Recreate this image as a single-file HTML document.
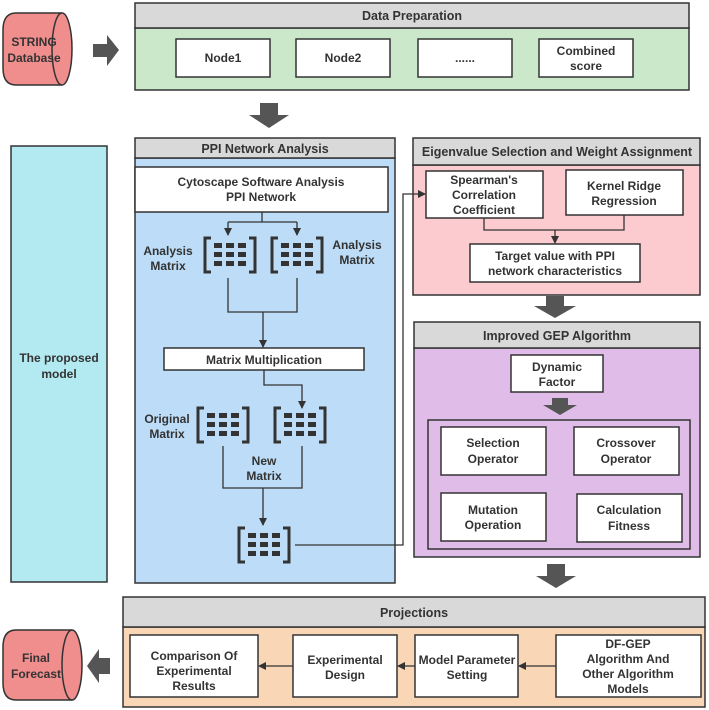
<!DOCTYPE html>
<html><head><meta charset="utf-8"><style>
html,body{margin:0;padding:0;background:#fff;width:709px;height:710px;overflow:hidden}
svg{display:block}
text{font-family:"Liberation Sans",sans-serif;font-weight:bold;fill:#333;text-anchor:middle}
.h{font-size:12.5px;font-weight:bold}
.t{font-size:12px}
</style></head><body>
<svg width="709" height="710" viewBox="0 0 709 710" xmlns="http://www.w3.org/2000/svg">
<defs>
<marker id="a" markerWidth="8" markerHeight="8" refX="7" refY="4" orient="auto" markerUnits="userSpaceOnUse"><path d="M0,0 L8,4 L0,8 z" fill="#333"/></marker>
<g id="mx">
<path d="M6,0 H0 V34 H6" fill="none" stroke="#333" stroke-width="3"/>
<path d="M44,0 H50 V34 H44" fill="none" stroke="#333" stroke-width="3"/>
<g fill="#333">
<rect x="9" y="5" width="8" height="5"/><rect x="21" y="5" width="8" height="5"/><rect x="33" y="5" width="8" height="5"/>
<rect x="9" y="14" width="8" height="5"/><rect x="21" y="14" width="8" height="5"/><rect x="33" y="14" width="8" height="5"/>
<rect x="9" y="23" width="8" height="5"/><rect x="21" y="23" width="8" height="5"/><rect x="33" y="23" width="8" height="5"/>
</g></g>
</defs>
<g stroke="#333" stroke-width="1.5">
<!-- Data Preparation -->
<rect x="135" y="28" width="554" height="62" fill="#cbe8cb"/>
<rect x="135" y="3" width="554" height="25" fill="#d9d9d9"/>
<rect x="176" y="39" width="94" height="38" fill="#fff"/>
<rect x="296" y="39" width="94" height="38" fill="#fff"/>
<rect x="418" y="39" width="94" height="38" fill="#fff"/>
<rect x="539" y="39" width="94" height="38" fill="#fff"/>
<!-- STRING cylinder -->
<path d="M62,13 H16 Q3,13 3,30 V68 Q3,85 16,85 H62" fill="#f08d8d"/>
<ellipse cx="62" cy="49" rx="10" ry="36" fill="#f08d8d"/>
<!-- cyan -->
<rect x="11" y="146" width="96" height="436" fill="#b3e9f0"/>
<!-- PPI -->
<rect x="135" y="158" width="260" height="425" fill="#bddcf7"/>
<rect x="135" y="138" width="260" height="20" fill="#d9d9d9"/>
<rect x="135" y="167" width="253" height="45" fill="#fff"/>
<rect x="164" y="348" width="200" height="22" fill="#fff"/>
<!-- Eigen -->
<rect x="413" y="165" width="287" height="130" fill="#fccbd0"/>
<rect x="413" y="138" width="287" height="27" fill="#d9d9d9"/>
<rect x="426" y="171" width="117" height="47" fill="#fff"/>
<rect x="566" y="170" width="117" height="45" fill="#fff"/>
<rect x="470" y="244" width="170" height="38" fill="#fff"/>
<!-- GEP -->
<rect x="414" y="348" width="286" height="209" fill="#dfbde8"/>
<rect x="414" y="322" width="286" height="26" fill="#d9d9d9"/>
<rect x="511" y="355" width="92" height="37" fill="#fff"/>
<rect x="428" y="420" width="262" height="129" fill="none"/>
<rect x="441" y="427" width="105" height="48" fill="#fff"/>
<rect x="574" y="427" width="105" height="48" fill="#fff"/>
<rect x="441" y="493" width="105" height="48" fill="#fff"/>
<rect x="577" y="494" width="105" height="48" fill="#fff"/>
<!-- Projections -->
<rect x="123" y="627" width="582" height="80" fill="#f8d6b6"/>
<rect x="123" y="597" width="582" height="30" fill="#d9d9d9"/>
<rect x="130" y="635" width="128" height="62" fill="#fff"/>
<rect x="293" y="635" width="104" height="62" fill="#fff"/>
<rect x="415" y="635" width="103" height="62" fill="#fff"/>
<rect x="556" y="635" width="145" height="62" fill="#fff"/>
<!-- Final Forecast cylinder -->
<path d="M72,630 H16 Q3,630 3,647 V683 Q3,700 16,700 H72" fill="#f08d8d"/>
<ellipse cx="72" cy="665" rx="10" ry="35" fill="#f08d8d"/>
</g>
<!-- connectors -->
<g stroke="#333" stroke-width="1.3" fill="none">
<path d="M262,212 V222 M228,222 H297"/>
<path d="M228,222 V235" marker-end="url(#a)"/>
<path d="M297,222 V235" marker-end="url(#a)"/>
<path d="M228,278 V312 H297 V278"/>
<path d="M263,312 V347" marker-end="url(#a)"/>
<path d="M264,370 V385 H302 V408" marker-end="url(#a)"/>
<path d="M223,446 V488 H302 V446"/>
<path d="M263,488 V525" marker-end="url(#a)"/>
<path d="M295,545 H403 V194 H425" marker-end="url(#a)"/>
<path d="M484,218 V230 H624 V215"/>
<path d="M555,230 V243" marker-end="url(#a)"/>
<path d="M556,666 H519" marker-end="url(#a)"/>
<path d="M415,666 H398" marker-end="url(#a)"/>
<path d="M293,666 H259" marker-end="url(#a)"/>
</g>
<!-- matrices -->
<use href="#mx" x="205" y="238"/>
<use href="#mx" x="272" y="238"/>
<use href="#mx" x="198" y="408"/>
<use href="#mx" x="275" y="408"/>
<use href="#mx" x="239" y="528"/>
<!-- big arrows -->
<g fill="#555">
<path d="M93,44 H107 V35 L119,50 L107,66 V57 H93 z"/>
<path d="M260,103 H278 V115 H289 L269,128 L249,115 H260 z"/>
<path d="M546,296 H564 V306 H576 L555,318 L534,306 H546 z"/>
<path d="M552,398 H568 V405 H577 L560,415 L543,405 H552 z"/>
<path d="M547,564 H565 V576 H576 L556,588 L536,576 H547 z"/>
<path d="M110,658 H99 V649 L87,666 L99,683 V674 H110 z"/>
</g>
<!-- text -->
<text class="h" x="412" y="20">Data Preparation</text>
<text class="t" x="223" y="62">Node1</text>
<text class="t" x="343" y="62">Node2</text>
<text class="t" x="465" y="62">......</text>
<text class="t" x="586" y="55">Combined</text>
<text class="t" x="586" y="70">score</text>
<text class="t" x="34" y="46">STRING</text>
<text class="t" x="34" y="62">Database</text>
<text class="t" x="59" y="362">The proposed</text>
<text class="t" x="59" y="378">model</text>
<text class="h" x="265" y="153">PPI Network Analysis</text>
<text class="t" x="261" y="186">Cytoscape Software Analysis</text>
<text class="t" x="261" y="201">PPI Network</text>
<text class="t" x="168" y="255">Analysis</text>
<text class="t" x="168" y="270">Matrix</text>
<text class="t" x="357" y="249">Analysis</text>
<text class="t" x="357" y="264">Matrix</text>
<text class="t" x="264" y="364">Matrix Multiplication</text>
<text class="t" x="167" y="423">Original</text>
<text class="t" x="167" y="438">Matrix</text>
<text class="t" x="264" y="465">New</text>
<text class="t" x="264" y="480">Matrix</text>
<text class="h" x="557" y="156">Eigenvalue Selection and Weight Assignment</text>
<text class="t" x="484" y="184">Spearman's</text>
<text class="t" x="484" y="199">Correlation</text>
<text class="t" x="484" y="214">Coefficient</text>
<text class="t" x="624" y="190">Kernel Ridge</text>
<text class="t" x="624" y="205">Regression</text>
<text class="t" x="555" y="260">Target value with PPI</text>
<text class="t" x="555" y="275">network characteristics</text>
<text class="h" x="557" y="340">Improved GEP Algorithm</text>
<text class="t" x="557" y="371">Dynamic</text>
<text class="t" x="557" y="386">Factor</text>
<text class="t" x="493" y="447">Selection</text>
<text class="t" x="493" y="463">Operator</text>
<text class="t" x="626" y="447">Crossover</text>
<text class="t" x="626" y="463">Operator</text>
<text class="t" x="493" y="514">Mutation</text>
<text class="t" x="493" y="529">Operation</text>
<text class="t" x="629" y="514">Calculation</text>
<text class="t" x="629" y="530">Fitness</text>
<text class="h" x="414" y="617">Projections</text>
<text class="t" x="194" y="660">Comparison Of</text>
<text class="t" x="194" y="675">Experimental</text>
<text class="t" x="194" y="690">Results</text>
<text class="t" x="345" y="664">Experimental</text>
<text class="t" x="345" y="679">Design</text>
<text class="t" x="467" y="664">Model Parameter</text>
<text class="t" x="467" y="679">Setting</text>
<text class="t" x="628" y="648">DF-GEP</text>
<text class="t" x="628" y="663">Algorithm And</text>
<text class="t" x="628" y="678">Other Algorithm</text>
<text class="t" x="628" y="693">Models</text>
<text class="t" x="36" y="662">Final</text>
<text class="t" x="36" y="678">Forecast</text>
</svg>
</body></html>
